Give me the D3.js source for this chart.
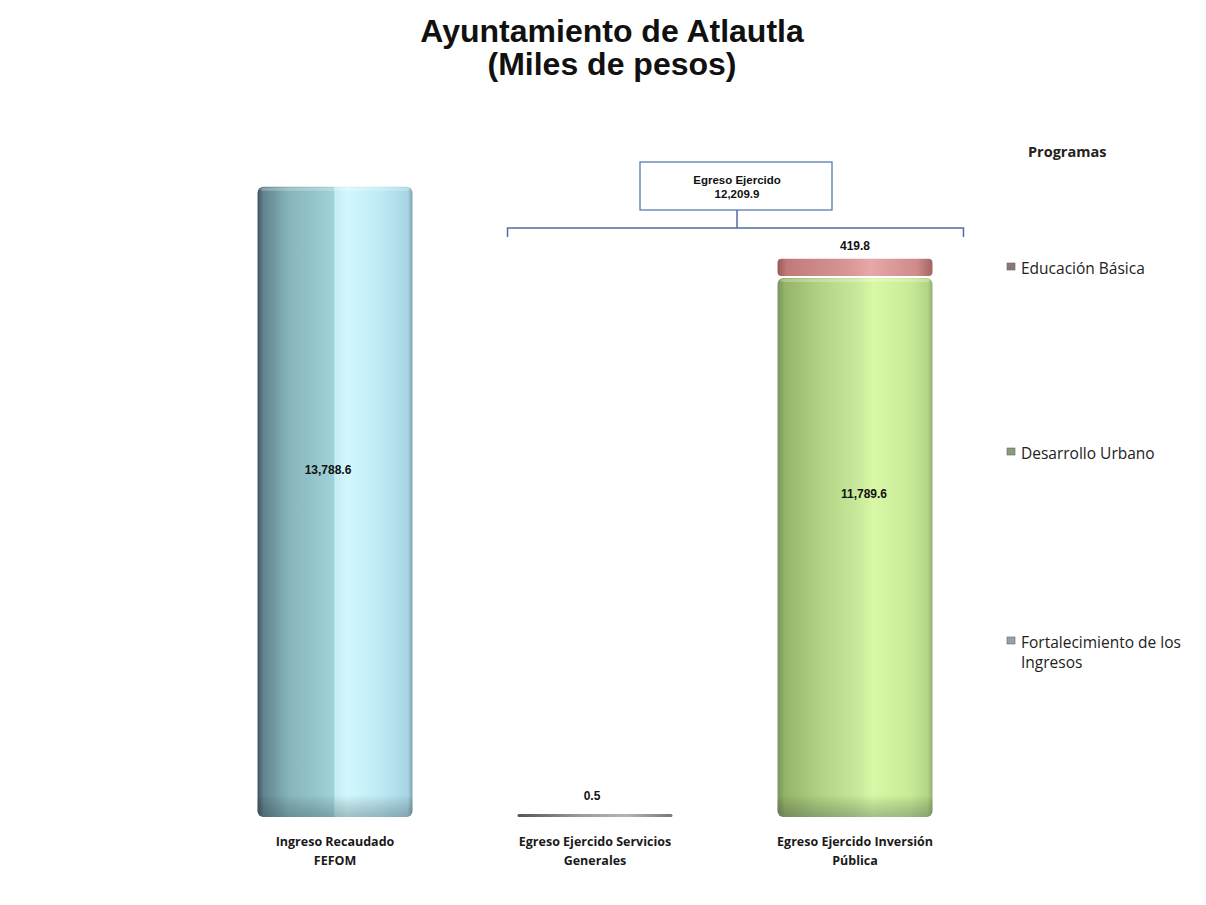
<!DOCTYPE html>
<html>
<head>
<meta charset="utf-8">
<script src="https://cdn.jsdelivr.net/npm/d3@7"></script>
<style>
  body { margin: 0; background: #fff; }
  svg { display: block; }
</style>
</head>
<body>
<svg id="chart" width="1206" height="905"></svg>
<script>
// ---- data ----
const categories = ["Ingreso Recaudado FEFOM", "Egreso Ejercido Servicios Generales", "Egreso Ejercido Inversión Pública"];
const categoryLines = [["Ingreso Recaudado", "FEFOM"], ["Egreso Ejercido Servicios", "Generales"], ["Egreso Ejercido Inversión", "Pública"]];
const ingresoValues = [13788.6, 0, 0];
const fortalecimientoValues = [0, 0.5, 0];
const desarrolloValues = [0, 0, 11789.6];
const educacionValues = [0, 0, 419.8];
const legendLabels = [["Educación Básica"], ["Desarrollo Urbano"], ["Fortalecimiento de los", "Ingresos"]];
const totalEgresoLabel = ["Egreso Ejercido", "12,209.9"];
const titleLines = ["Ayuntamiento de Atlautla", "(Miles de pesos)"];

const svg = d3.select("#chart");
const defs = svg.append("defs");

function hGrad(id, stops) {
  const g = defs.append("linearGradient").attr("id", id).attr("x1", "0%").attr("x2", "100%").attr("y1", "0%").attr("y2", "0%");
  stops.forEach(s => g.append("stop").attr("offset", s[0]).attr("stop-color", s[1]));
}
hGrad("gBlue", [["0%", "#3f5560"], ["4%", "#62858e"], ["20%", "#86b4bb"], ["49%", "#9fd2d8"], ["50%", "#c3ecf3"], ["58%", "#d2f8fd"], ["80%", "#bde9f3"], ["97%", "#a8d5e3"], ["100%", "#7fa2ae"]]);
hGrad("gGreen", [["0%", "#7a955a"], ["5%", "#96b46a"], ["25%", "#b0cf82"], ["50%", "#c6e799"], ["62%", "#d8f8a6"], ["85%", "#c9eb98"], ["97%", "#b2d586"], ["100%", "#90ae6a"]]);
hGrad("gPink", [["0%", "#9a5a5a"], ["6%", "#c07a7a"], ["45%", "#d99595"], ["60%", "#e6a8a8"], ["90%", "#d08a8a"], ["100%", "#a06464"]]);
hGrad("gGray", [["0%", "#555"], ["40%", "#9a9a9a"], ["70%", "#b5b5b5"], ["100%", "#777"]]);
const vShade = defs.append("linearGradient").attr("id", "gShade").attr("x1", "0%").attr("x2", "0%").attr("y1", "0%").attr("y2", "100%");
vShade.append("stop").attr("offset", "0%").attr("stop-color", "#000").attr("stop-opacity", 0);
vShade.append("stop").attr("offset", "100%").attr("stop-color", "#1c3038").attr("stop-opacity", 0.28);

// ---- scales ----
const x = d3.scaleBand().domain(categories).range([205, 985]).paddingInner(0.404).paddingOuter(0.202);
const y = d3.scaleLinear().domain([0, 14000]).range([817, 177]);

// ---- series ----
const rows = categories.map((c, i) => ({
  cat: c,
  ingreso: ingresoValues[i],
  fortalecimiento: fortalecimientoValues[i],
  desarrollo: desarrolloValues[i],
  educacion: educacionValues[i]
}));
const keys = ["ingreso", "fortalecimiento", "desarrollo", "educacion"];
const fills = { ingreso: "url(#gBlue)", fortalecimiento: "url(#gGray)", desarrollo: "url(#gGreen)", educacion: "url(#gPink)" };
const stacked = d3.stack().keys(keys)(rows);

const barsG = svg.append("g");
stacked.forEach(layer => {
  layer.forEach(seg => {
    const v = seg[1] - seg[0];
    if (v <= 0) return;
    const x0 = x(seg.data.cat), w = x.bandwidth();
    let yTop = y(seg[1]), yBot = y(seg[0]);
    let h = yBot - yTop;
    if (h < 3) { yTop = yBot - 3; h = 3; }
    const gap = layer.key === "educacion" ? 2 : 0;
    barsG.append("rect")
      .attr("x", x0).attr("y", yTop).attr("width", w).attr("height", Math.max(h - gap, 1))
      .attr("rx", h > 20 ? 6 : Math.min(4, h / 2)).attr("ry", h > 20 ? 6 : Math.min(4, h / 2))
      .attr("fill", fills[layer.key]);
    if (h > 40) {
      barsG.append("rect")
        .attr("x", x0).attr("y", yBot - 22).attr("width", w).attr("height", 22)
        .attr("rx", 6).attr("fill", "url(#gShade)");
      barsG.append("rect")
        .attr("x", x0 + 3).attr("y", yTop + 1).attr("width", w - 6).attr("height", 3)
        .attr("rx", 2).attr("fill", "#fff").attr("opacity", 0.25);
    }
  });
});

// ---- data labels ----
const fmt = d3.format(",.1f");
const lbl = svg.append("g").attr("font-family", "Liberation Sans, Arial, sans-serif").attr("font-weight", "bold").attr("font-size", 12).attr("fill", "#111").attr("text-anchor", "middle");
lbl.append("text").attr("x", x(categories[0]) + x.bandwidth() / 2 - 7).attr("y", y(ingresoValues[0] * 0.55) + 4).text(fmt(ingresoValues[0]));
lbl.append("text").attr("x", x(categories[2]) + x.bandwidth() / 2 + 9).attr("y", y(desarrolloValues[2] * 0.6) + 4).text(fmt(desarrolloValues[2]));
lbl.append("text").attr("x", x(categories[1]) + x.bandwidth() / 2 - 3).attr("y", y(fortalecimientoValues[1]) - 17).text(fmt(fortalecimientoValues[1]));
lbl.append("text").attr("x", x(categories[2]) + x.bandwidth() / 2).attr("y", y(desarrolloValues[2] + educacionValues[2]) - 9).text(fmt(educacionValues[2]));

// ---- category labels ----
const cat = svg.append("g").attr("font-family", "Open Sans, Noto Sans, sans-serif").attr("font-weight", "bold").attr("font-size", 12.5).attr("fill", "#1a1a1a").attr("text-anchor", "middle");
categoryLines.forEach((lines, i) => {
  const cx = x(categories[i]) + x.bandwidth() / 2;
  lines.forEach((t, j) => cat.append("text").attr("x", cx).attr("y", 846 + j * 19).text(t));
});

// ---- bracket ----
const bx0 = x(categories[1]) - 10, bx1 = x(categories[2]) + x.bandwidth() + 31;
const by = 228;
const br = svg.append("g").attr("fill", "none").attr("stroke", "#4e6f9e").attr("stroke-width", 1.5);
br.append("path").attr("d", `M${bx0},${by + 9}V${by}H${bx1}V${by + 9}`);
const bmid = 737;
br.append("line").attr("x1", bmid).attr("x2", bmid).attr("y1", 210).attr("y2", by);
br.append("rect").attr("x", 640).attr("y", 162).attr("width", 192).attr("height", 48).attr("fill", "#fff").attr("stroke", "#4a6fb0").attr("stroke-width", 1.2);
const bt = svg.append("g").attr("font-family", "Liberation Sans, Arial, sans-serif").attr("font-weight", "bold").attr("font-size", 11.5).attr("fill", "#111").attr("text-anchor", "middle");
bt.append("text").attr("x", bmid).attr("y", 184).text(totalEgresoLabel[0]);
bt.append("text").attr("x", bmid).attr("y", 198).text(totalEgresoLabel[1]);

// ---- title ----
const tt = svg.append("g").attr("font-family", "Liberation Sans, Arial, sans-serif").attr("font-weight", "bold").attr("font-size", 32).attr("fill", "#111").attr("text-anchor", "middle");
titleLines.forEach((t, i) => tt.append("text").attr("x", 612).attr("y", 42 + i * 33).text(t));

// ---- legend ----
const lg = svg.append("g").attr("font-family", "Open Sans, Noto Sans, sans-serif").attr("fill", "#222");
lg.append("text").attr("x", 1028).attr("y", 157).attr("font-weight", "bold").attr("font-size", 14.5).text("Programas");
const legendY = [268, 453, 642];
const legendColors = ["#8a7878", "#8a9a7a", "#9aa0a8"];
legendLabels.forEach((lines, i) => {
  lg.append("rect").attr("x", 1007).attr("y", legendY[i] - 5).attr("width", 8).attr("height", 7).attr("fill", legendColors[i]).attr("stroke", "#666").attr("stroke-width", 0.6);
  lines.forEach((t, j) => lg.append("text").attr("x", 1021).attr("y", legendY[i] + 6 + j * 20).attr("font-size", 15.5).text(t));
});
</script>
</body>
</html>
